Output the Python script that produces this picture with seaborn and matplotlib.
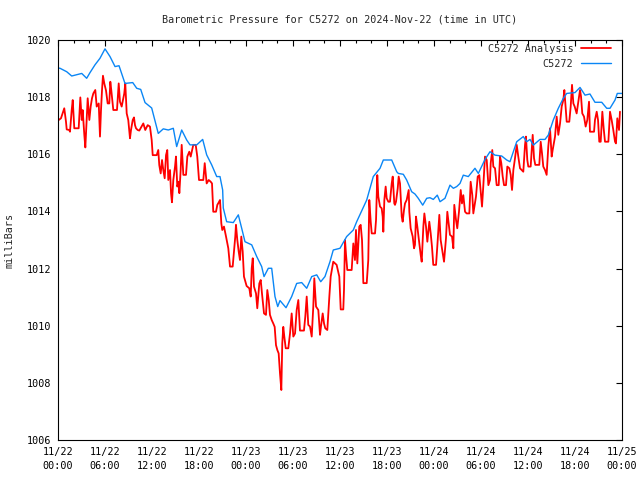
import matplotlib
matplotlib.use("Agg")
import matplotlib.pyplot as plt
import seaborn as sns
import pandas as pd
from matplotlib.ticker import MultipleLocator

# ---- data (hours since 2024-11-22 00:00 UTC, pressure in mbar) ----
blue_hours = [0, 0.26, 1.11, 1.75, 3.03, 3.66, 4.09, 4.72, 5.36, 6.0,
              6.64, 7.28, 7.79, 8.55, 9.54, 10.05, 10.56, 11.11, 11.96, 12.80,
              13.44, 14.08, 14.72, 15.15, 15.79, 16.43, 16.85, 17.71, 18.47, 18.98,
              19.62, 20.26, 20.68, 21.02, 21.10, 21.53, 22.38, 23.02, 23.45, 23.87,
              24.73, 25.37, 26.0, 26.30, 26.85, 27.28, 27.70, 28.05, 28.34, 29.11,
              29.83, 30.47, 31.11, 31.75, 32.39, 33.03, 33.54, 34.08, 34.72, 35.14,
              36.0, 36.85, 37.70, 38.13, 39.41, 40.25, 41.11, 41.53, 42.60, 43.24,
              43.44, 44.08, 44.51, 45.15, 45.57, 45.99, 46.56, 47.07, 47.49, 47.91,
              48.42, 48.77, 49.40, 50.04, 50.47, 50.90, 51.32, 51.74, 52.38, 53.23,
              53.66, 54.51, 55.15, 55.79, 56.64, 57.28, 57.70, 58.56, 59.40, 59.83,
              60.26, 60.68, 61.53, 62.17, 62.59, 63.23, 63.87, 64.51, 64.94, 66.0,
              66.64, 67.28, 67.91, 68.55, 69.41, 70.05, 70.47, 71.11, 71.40, 72.0]
blue_values = [1019.02, 1019.01, 1018.89, 1018.74, 1018.83, 1018.66, 1018.86, 1019.13, 1019.36, 1019.69,
               1019.42, 1019.07, 1019.10, 1018.48, 1018.51, 1018.31, 1018.27, 1017.81, 1017.62, 1016.73,
               1016.89, 1016.85, 1016.91, 1016.27, 1016.85, 1016.50, 1016.33, 1016.33, 1016.52, 1015.98,
               1015.63, 1015.22, 1015.22, 1014.75, 1014.12, 1013.64, 1013.61, 1013.88, 1013.41, 1012.94,
               1012.83, 1012.42, 1012.07, 1011.72, 1012.01, 1012.01, 1011.02, 1010.67, 1010.88, 1010.63,
               1011.02, 1011.48, 1011.51, 1011.31, 1011.72, 1011.78, 1011.54, 1011.72, 1012.24, 1012.65,
               1012.71, 1013.12, 1013.35, 1013.64, 1014.40, 1015.22, 1015.51, 1015.80, 1015.80, 1015.39,
               1015.33, 1015.30, 1015.10, 1014.69, 1014.61, 1014.46, 1014.22, 1014.46, 1014.48, 1014.42,
               1014.57, 1014.34, 1014.46, 1014.92, 1014.81, 1014.87, 1014.98, 1015.27, 1015.22, 1015.51,
               1015.33, 1015.82, 1016.09, 1015.97, 1015.94, 1015.80, 1015.74, 1016.44, 1016.62, 1016.44,
               1016.52, 1016.32, 1016.52, 1016.52, 1016.67, 1017.20, 1017.61, 1017.96, 1018.13, 1018.16,
               1018.34, 1018.07, 1018.11, 1017.82, 1017.82, 1017.61, 1017.61, 1017.90, 1018.13, 1018.13]

red_hours = [0.09, 0.38, 0.80, 1.02, 1.11, 1.44, 1.53, 1.75, 1.88, 2.08,
             2.64, 2.85, 3.03, 3.15, 3.36, 3.49, 3.66, 3.79, 4.00, 4.17,
             4.34, 4.51, 4.76, 4.94, 5.20, 5.36, 5.49, 5.62, 5.74, 5.91,
             6.13, 6.34, 6.55, 6.68, 6.80, 7.06, 7.53, 7.75, 7.91, 8.13,
             8.46, 8.59, 8.77, 8.97, 9.19, 9.32, 9.54, 9.70, 9.83, 9.96,
             10.17, 10.38, 10.89, 11.14, 11.45, 11.74, 11.96, 12.09, 12.60, 12.80,
             12.93, 13.11, 13.28, 13.44, 13.62, 13.79, 13.95, 14.08, 14.30, 14.43,
             14.55, 14.72, 14.94, 15.06, 15.23, 15.41, 15.49, 15.66, 15.79, 16.00,
             16.34, 16.51, 16.76, 16.94, 17.27, 17.58, 17.78, 18.00, 18.55, 18.73,
             18.98, 19.24, 19.49, 19.66, 19.82, 20.17, 20.34, 20.51, 20.68, 20.85,
             20.97, 21.19, 21.45, 21.74, 21.96, 22.30, 22.47, 22.63, 22.72, 22.89,
             23.07, 23.23, 23.40, 23.58, 23.74, 24.08, 24.42, 24.60, 24.73, 24.86,
             25.02, 25.28, 25.44, 25.70, 25.88, 26.04, 26.30, 26.55, 26.72, 26.90,
             27.06, 27.28, 27.48, 27.66, 27.83, 28.00, 28.17, 28.34, 28.51, 28.63,
             28.76, 28.89, 29.07, 29.40, 29.62, 29.83, 30.04, 30.26, 30.47, 30.68,
             30.89, 31.40, 31.57, 31.75, 31.95, 32.17, 32.39, 32.59, 32.72, 32.94,
             33.23, 33.45, 33.57, 33.79, 33.96, 34.12, 34.38, 34.64, 34.81, 35.14,
             35.57, 35.91, 36.09, 36.42, 36.51, 36.64, 36.77, 36.93, 37.49, 37.70,
             37.91, 38.04, 38.21, 38.46, 38.64, 38.81, 38.98, 39.41, 39.61, 39.74,
             39.92, 40.05, 40.47, 40.60, 40.76, 40.89, 41.11, 41.32, 41.45, 41.53,
             41.66, 41.83, 41.96, 42.17, 42.38, 42.60, 42.73, 42.80, 42.93, 43.02,
             43.15, 43.37, 43.49, 43.66, 43.88, 44.00, 44.17, 44.30, 44.51, 44.77,
             44.85, 45.02, 45.28, 45.45, 45.57, 45.70, 45.87, 46.12, 46.30, 46.43,
             46.64, 46.77, 46.98, 47.15, 47.40, 47.58, 47.74, 47.91, 48.26, 48.42,
             48.68, 48.85, 49.11, 49.28, 49.53, 49.70, 49.87, 50.04, 50.30, 50.47,
             50.59, 50.81, 50.97, 51.19, 51.41, 51.57, 51.74, 51.96, 52.17, 52.51,
             52.68, 52.89, 53.02, 53.36, 53.58, 53.78, 53.96, 54.13, 54.30, 54.51,
             54.73, 54.94, 55.15, 55.24, 55.44, 55.57, 55.79, 56.00, 56.26, 56.43,
             56.59, 56.77, 56.94, 57.19, 57.36, 57.62, 57.79, 57.96, 58.13, 58.34,
             58.56, 58.76, 58.98, 59.19, 59.40, 59.62, 59.74, 59.91, 60.04, 60.34,
             60.60, 60.77, 60.93, 61.44, 61.62, 61.79, 61.95, 62.17, 62.38, 62.59,
             62.81, 63.02, 63.15, 63.45, 63.66, 63.87, 64.09, 64.30, 64.51, 64.64,
             64.82, 64.94, 65.27, 65.45, 65.62, 65.79, 65.96, 66.21, 66.42, 66.64,
             66.77, 66.93, 67.15, 67.36, 67.57, 67.79, 67.91, 68.43, 68.55, 68.77,
             68.94, 69.10, 69.28, 69.49, 69.66, 69.83, 70.26, 70.47, 70.68, 70.89,
             71.11, 71.23, 71.40, 71.62, 71.74]
red_values = [1017.20, 1017.26, 1017.61, 1017.14, 1016.87, 1016.85, 1016.79, 1017.55, 1017.90, 1016.91,
              1016.91, 1017.99, 1017.20, 1017.55, 1016.68, 1016.24, 1017.20, 1017.96, 1017.20, 1017.67,
              1017.96, 1018.13, 1018.25, 1017.67, 1017.78, 1016.62, 1017.55, 1018.25, 1018.75, 1018.48,
              1018.23, 1017.78, 1017.78, 1018.54, 1018.25, 1017.55, 1017.55, 1018.48, 1017.84, 1017.67,
              1018.13, 1018.48, 1017.43, 1017.20, 1016.56, 1016.85, 1017.20, 1017.29, 1017.02, 1016.91,
              1016.85, 1016.83, 1017.08, 1016.85, 1017.02, 1016.97, 1016.50, 1015.97, 1015.97, 1016.15,
              1015.62, 1015.33, 1015.80, 1015.45, 1015.16, 1015.97, 1016.15, 1015.10, 1015.45, 1014.64,
              1014.32, 1015.10, 1015.57, 1015.92, 1014.87, 1015.04, 1014.64, 1015.45, 1016.33, 1015.28,
              1015.28, 1015.92, 1016.09, 1015.92, 1016.33, 1016.33, 1015.92, 1015.10, 1015.10, 1015.69,
              1014.98, 1015.10, 1015.04, 1014.98, 1013.99, 1013.99, 1014.23, 1014.31, 1014.40, 1013.58,
              1013.35, 1013.47, 1013.12, 1012.71, 1012.07, 1012.07, 1012.59, 1013.12, 1013.53, 1013.00,
              1012.59, 1012.30, 1013.12, 1012.59, 1011.72, 1011.39, 1011.31, 1011.02, 1012.01, 1012.36,
              1011.37, 1011.13, 1010.61, 1011.48, 1011.60, 1011.13, 1010.43, 1010.38, 1011.25, 1010.90,
              1010.38, 1010.20, 1010.08, 1009.96, 1009.32, 1009.15, 1009.03, 1008.33, 1007.75, 1009.38,
              1009.96, 1009.62, 1009.21, 1009.21, 1009.73, 1010.43, 1009.62, 1009.73, 1010.55, 1010.90,
              1009.83, 1009.83, 1010.32, 1011.02, 1010.03, 1009.97, 1009.62, 1010.67, 1011.66, 1010.67,
              1010.55, 1009.68, 1009.97, 1010.43, 1010.08, 1009.91, 1009.85, 1011.02, 1011.72, 1012.24,
              1012.13, 1011.72, 1010.57, 1010.57, 1011.25, 1013.00, 1012.48, 1011.95, 1011.95, 1012.88,
              1012.30, 1013.35, 1012.18, 1013.47, 1013.53, 1013.00, 1011.49, 1011.49, 1012.30, 1014.40,
              1013.64, 1013.23, 1013.23, 1013.70, 1015.27, 1014.52, 1014.17, 1014.11, 1013.82, 1013.29,
              1014.40, 1014.87, 1014.46, 1014.34, 1014.34, 1014.98, 1015.22, 1014.87, 1014.28, 1014.23,
              1014.34, 1014.81, 1015.22, 1014.98, 1013.82, 1013.64, 1014.05, 1014.28, 1014.40, 1014.75,
              1013.99, 1013.41, 1013.12, 1012.71, 1012.83, 1013.82, 1013.47, 1012.88, 1012.48, 1012.24,
              1013.47, 1013.93, 1013.47, 1012.94, 1013.64, 1013.23, 1012.77, 1012.13, 1012.13, 1012.77,
              1013.88, 1013.00, 1012.54, 1012.24, 1013.06, 1013.99, 1013.58, 1013.18, 1013.12, 1012.71,
              1014.23, 1013.70, 1013.41, 1013.99, 1014.75, 1014.28, 1014.57, 1013.99, 1013.93, 1013.93,
              1015.04, 1014.57, 1013.93, 1014.52, 1015.22, 1015.27, 1014.69, 1014.17, 1014.92, 1015.92,
              1015.80, 1014.92, 1015.10, 1015.69, 1016.15, 1015.57, 1015.51, 1014.92, 1014.92, 1015.92,
              1015.69, 1015.22, 1014.92, 1014.92, 1015.57, 1015.51, 1015.28, 1014.75, 1015.45, 1015.86,
              1016.33, 1015.92, 1015.51, 1015.45, 1015.39, 1016.33, 1016.62, 1015.80, 1015.57, 1015.57,
              1016.68, 1015.86, 1015.63, 1015.63, 1016.44, 1016.03, 1015.57, 1015.45, 1015.28, 1016.27,
              1016.91, 1015.92, 1016.15, 1016.62, 1017.32, 1016.68, 1017.08, 1017.67, 1017.90, 1018.25,
              1017.61, 1017.14, 1017.14, 1017.67, 1018.43, 1017.78, 1017.67, 1017.43, 1017.84, 1018.25,
              1018.02, 1017.43, 1017.32, 1016.97, 1017.20, 1017.84, 1016.79, 1016.79, 1017.20, 1017.49,
              1017.20, 1016.44, 1016.44, 1017.49, 1016.91, 1016.44, 1016.44, 1017.49, 1017.20, 1016.85,
              1016.44, 1016.38, 1017.26, 1016.85, 1017.49]

tick_hours = list(range(0, 73, 6))
start = pd.Timestamp("2024-11-22 00:00")
tick_labels = [(start + pd.Timedelta(hours=h)).strftime("%m/%d\n%H:%M") for h in tick_hours]
y_ticks = list(range(1006, 1021, 2))

title = "Barometric Pressure for C5272 on 2024-Nov-22 (time in UTC)"
red_label = "C5272 Analysis"
blue_label = "C5272"

# ---- style ----
sns.set_style("white")
plt.rcParams['font.family'] = ['DejaVu Sans Mono', 'DejaVu Sans']
FS = 7.3

red_df = pd.DataFrame({"hour": red_hours, "mbar": red_values})
blue_df = pd.DataFrame({"hour": blue_hours, "mbar": blue_values})

fig = plt.figure(figsize=(6.4, 4.8), dpi=100)
ax = fig.add_axes([58 / 640, 40 / 480, 564 / 640, 400 / 480])

sns.lineplot(data=red_df, x="hour", y="mbar", ax=ax, color="#ff0000", linewidth=1.3,
             label=red_label, estimator=None, sort=False)
sns.lineplot(data=blue_df, x="hour", y="mbar", ax=ax, color="#0a86f5", linewidth=1.0,
             label=blue_label, estimator=None, sort=False)

ax.set_xlim(0, 72)
ax.set_ylim(1006, 1020)
ax.set_xticks(tick_hours)
ax.set_xticklabels(tick_labels)
for t in ax.get_xticklabels():
    t.set_linespacing(1.45)
ax.xaxis.set_minor_locator(MultipleLocator(2))
ax.set_yticks(y_ticks)
ax.set_yticklabels([str(v) for v in y_ticks])
ax.set_xlabel("")
ax.set_ylabel("")

ax.tick_params(which="both", direction="in", top=True, right=True, color="black",
               width=0.8, labelsize=FS, labelcolor="black")
ax.tick_params(which="major", length=4.5)
ax.tick_params(which="minor", length=2.5)
ax.tick_params(axis="x", which="major", pad=5)
ax.tick_params(axis="y", which="major", pad=5)
for s in ax.spines.values():
    s.set_color("black")
    s.set_linewidth(0.8)
    s.set_visible(True)

fig.text(340 / 640, 1 - 20 / 480, title, ha="center", va="center", fontsize=FS)
fig.text(10 / 640, 0.5, "milliBars", rotation=90, ha="center", va="center", fontsize=FS)

leg = ax.legend(loc="upper right", bbox_to_anchor=(611 / 640, 1 - 44 / 480),
                bbox_transform=fig.transFigure, frameon=False, markerfirst=False,
                fontsize=FS, handlelength=3.0, handletextpad=0.7, labelspacing=0.45,
                borderpad=0, borderaxespad=0)

fig.savefig("out.png", dpi=100)
